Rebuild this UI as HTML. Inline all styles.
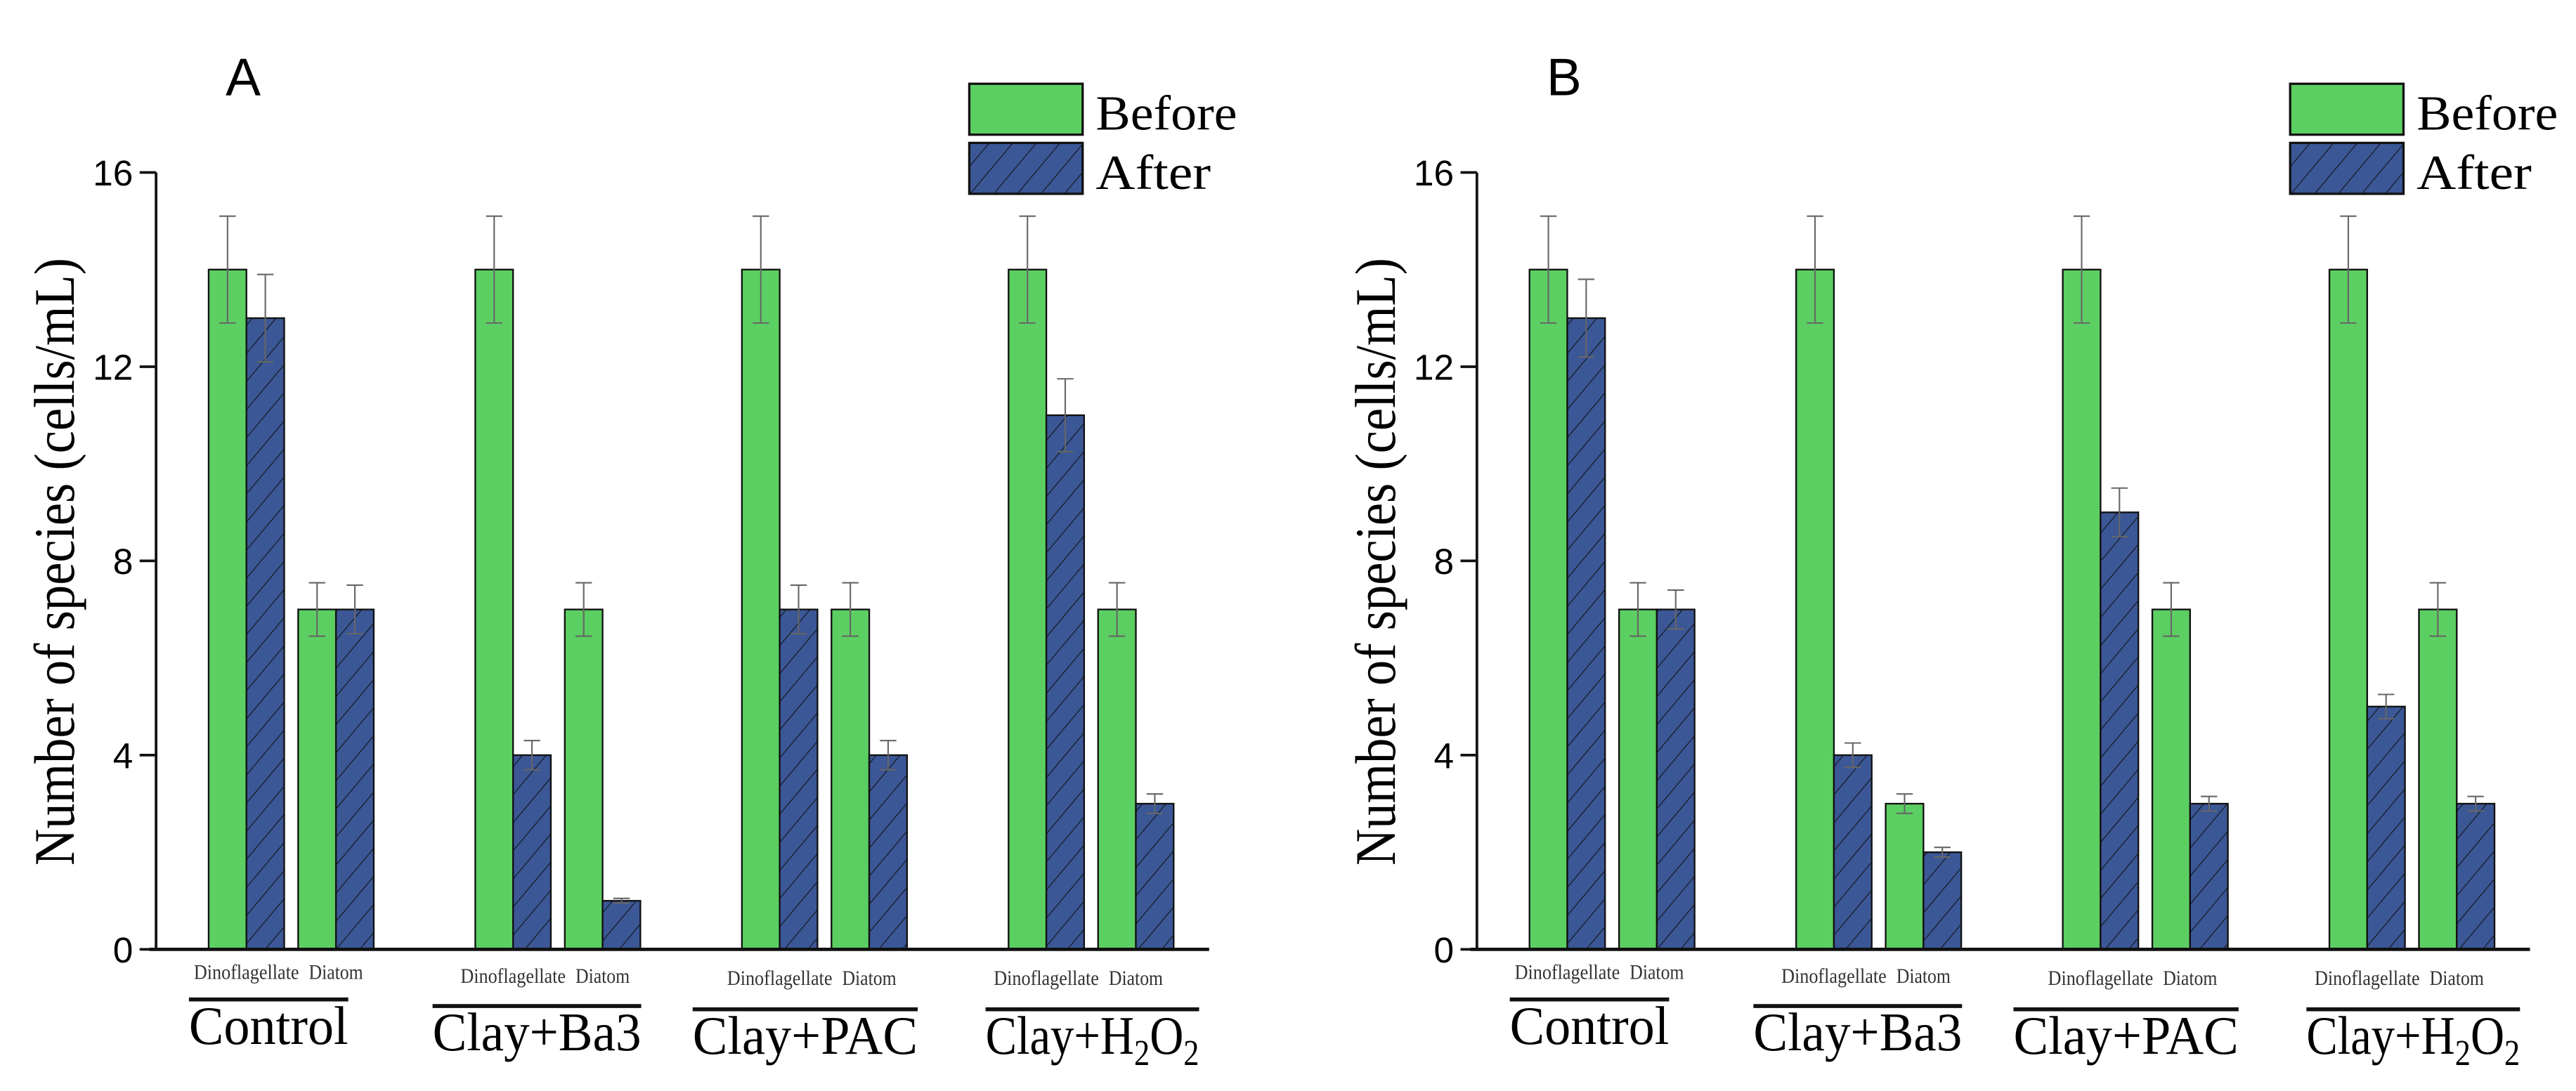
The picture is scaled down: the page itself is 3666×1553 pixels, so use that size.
<!DOCTYPE html>
<html><head><meta charset="utf-8"><style>
html,body{margin:0;padding:0;background:#fff;}
svg{display:block;}
</style></head><body>
<svg id="chart" width="3666" height="1553" viewBox="0 0 1568 664.24" xmlns="http://www.w3.org/2000/svg">
<defs>
<pattern id="hatch" patternUnits="userSpaceOnUse" width="11" height="11" patternTransform="rotate(40)">
<rect width="11" height="11" fill="#3b5796"/>
<line x1="0" y1="0" x2="0" y2="11" stroke="#111" stroke-width="0.9"/>
</pattern>
</defs>
<g id="root"></g>
</svg>
<script>
const groups = ["Control", "Clay+Ba3", "Clay+PAC", "Clay+H2O2"];
const species = ["Dinoflagellate", "Diatom"];
const yTicks = [0, 4, 8, 12, 16];
// Panel A: [group][species]
const aBefore = [[14, 7], [14, 7], [14, 7], [14, 7]];
const aBeforeErr = [[1.1, 0.55], [1.1, 0.55], [1.1, 0.55], [1.1, 0.55]];
const aAfter = [[13, 7], [4, 1], [7, 4], [11, 3]];
const aAfterErr = [[0.9, 0.5], [0.3, 0.05], [0.5, 0.3], [0.75, 0.2]];
// Panel B
const bBefore = [[14, 7], [14, 3], [14, 7], [14, 7]];
const bBeforeErr = [[1.1, 0.55], [1.1, 0.2], [1.1, 0.55], [1.1, 0.55]];
const bAfter = [[13, 7], [4, 2], [9, 3], [5, 3]];
const bAfterErr = [[0.8, 0.4], [0.25, 0.1], [0.5, 0.15], [0.25, 0.15]];

const NS = "http://www.w3.org/2000/svg";
const root = document.getElementById("root");
function mk(tag, attrs, parent) {
  const e = document.createElementNS(NS, tag);
  for (const k in attrs) e.setAttribute(k, attrs[k]);
  (parent || root).appendChild(e);
  return e;
}
const Y0 = 578, Y16 = 105;
function yScale(v) { return Y0 - v * (Y0 - Y16) / 16; }
const BW = 23;
// group label extents relative to first-species center (layout)
const lineL = [-35, -49, -53, -37];
const lineR = [62, 78, 84, 93];
const lineDy = [0, 4, 6, 6];

function drawPanel(ox, letter, before, beforeErr, after, afterErr) {
  const g = mk("g", { transform: "translate(" + ox + ",0)" });
  
  
  const ax = 95;
  function xCenter(gi, si) { return 150 + gi * 162.3 + si * 54.5; }
  const lbl = mk("text", { x: 148, y: 58, "font-family": "Liberation Sans, sans-serif", "font-size": 32, "text-anchor": "middle" }, g);
  lbl.textContent = letter;
  
  
  for (let gi = 0; gi < groups.length; gi++) {
    for (let si = 0; si < species.length; si++) {
      const c = xCenter(gi, si);
      const vals = [before[gi][si], after[gi][si]];
      const errs = [beforeErr[gi][si], afterErr[gi][si]];
      for (let k = 0; k < 2; k++) {
        const x = k === 0 ? c - BW : c;
        const y = yScale(vals[k]);
        const r = mk("rect", { x: x, y: y, width: BW, height: Y0 - y, fill: k === 0 ? "#5ccf62" : "url(#hatch)", stroke: "#111", "stroke-width": 1 }, g);
        
        
        const ex = x + BW / 2, e = errs[k];
        const eg = mk("g", { stroke: "#666", "stroke-width": 0.9 }, g);
        
        
        mk("line", { x1: ex, x2: ex, y1: yScale(vals[k] + e), y2: yScale(vals[k] - e) }, eg);
        mk("line", { x1: ex - 5, x2: ex + 5, y1: yScale(vals[k] + e), y2: yScale(vals[k] + e) }, eg);
        mk("line", { x1: ex - 5, x2: ex + 5, y1: yScale(vals[k] - e), y2: yScale(vals[k] - e) }, eg);
      }
      const st = mk("text", { x: c - (si === 0 ? 32 : 16.5), y: 596 + lineDy[gi] * 0.6, "font-family": "Liberation Serif, serif", "font-size": 12.5, fill: "#333", textLength: si === 0 ? 64 : 33, lengthAdjust: "spacingAndGlyphs" }, g);
      st.textContent = species[si];
      
      
    }
    const c0 = xCenter(gi, 0);
    const l = c0 + lineL[gi], rr = c0 + lineR[gi];
    const yl = 608.5 + lineDy[gi];
    const ul = mk("line", { x1: l, x2: rr, y1: yl, y2: yl, stroke: "#111", "stroke-width": 2.4 }, g);
    
    
    const gt = mk("text", { x: l, y: yl + 27, "font-family": "Liberation Serif, serif", "font-size": 33, textLength: rr - l, lengthAdjust: "spacingAndGlyphs" }, g);
    if (groups[gi] === "Clay+H2O2") {
      gt.textContent = "Clay+H";
      const s1 = mk("tspan", { "font-size": 22, dy: 7 }, gt); s1.textContent = "2";
      const s2 = mk("tspan", { dy: -7 }, gt); s2.textContent = "O";
      const s3 = mk("tspan", { "font-size": 22, dy: 7 }, gt); s3.textContent = "2";
    } else gt.textContent = groups[gi];
    
    
  }
  const ya = mk("line", { x1: ax, x2: ax, y1: Y16, y2: Y0, stroke: "#111", "stroke-width": 1.6 }, g);
  
  
  const xa = mk("line", { x1: ax - 4, x2: 736, y1: Y0, y2: Y0, stroke: "#111", "stroke-width": 2 }, g);
  
  
  for (const t of yTicks) {
    const y = yScale(t);
    mk("line", { x1: ax - 10, x2: ax, y1: y, y2: y, stroke: "#111", "stroke-width": 1.6 }, g);
    const tt = mk("text", { x: ax - 14, y: y + 8, "font-family": "Liberation Sans, sans-serif", "font-size": 22, "text-anchor": "end" }, g);
    tt.textContent = t;
    
    
  }
  const yt = mk("text", { x: -185, y: 0, transform: "translate(45,342) rotate(-90)", "font-family": "Liberation Serif, serif", "font-size": 35, textLength: 370, lengthAdjust: "spacingAndGlyphs" }, g);
  yt.textContent = "Number of species (cells/mL)";
  
  
  const lg = mk("g", {}, g);
  
  
  mk("rect", { x: 590, y: 51, width: 69, height: 31, fill: "#5ccf62", stroke: "#111", "stroke-width": 1.4 }, lg);
  mk("rect", { x: 590, y: 87, width: 69, height: 31, fill: "url(#hatch)", stroke: "#111", "stroke-width": 1.4 }, lg);
  const t1 = mk("text", { x: 667, y: 79, "font-family": "Liberation Serif, serif", "font-size": 30, textLength: 86, lengthAdjust: "spacingAndGlyphs" }, lg);
  t1.textContent = "Before";
  
  
  const t2 = mk("text", { x: 667, y: 115, "font-family": "Liberation Serif, serif", "font-size": 30, textLength: 70, lengthAdjust: "spacingAndGlyphs" }, lg);
  t2.textContent = "After";
  
  
}
drawPanel(0, "A", aBefore, aBeforeErr, aAfter, aAfterErr);
drawPanel(804, "B", bBefore, bBeforeErr, bAfter, bAfterErr);
</script>
</body></html>
